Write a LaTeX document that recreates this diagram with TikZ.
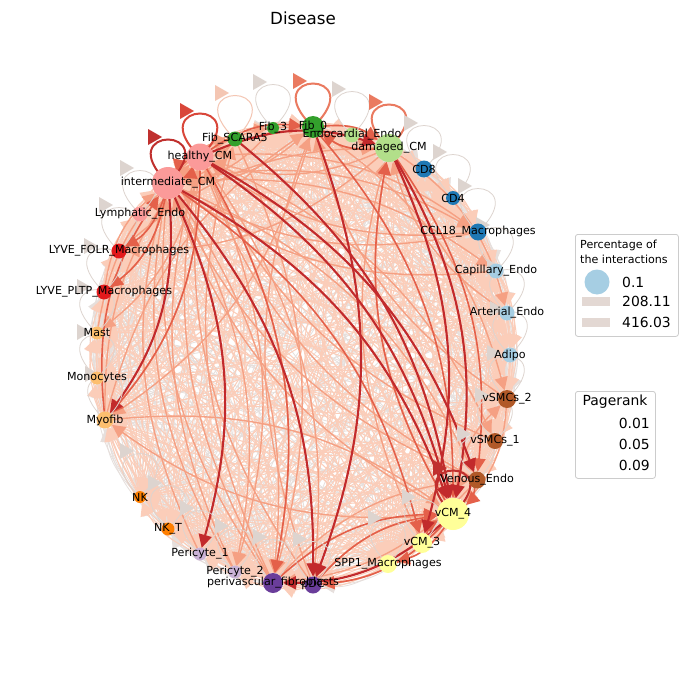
\documentclass[tikz,border=0pt]{standalone}
\usepackage{fontspec}
\setmainfont{DejaVu Sans}
\usetikzlibrary{arrows.meta,calc}
\definecolor{lv0}{HTML}{E6DFDC}
\definecolor{lv1}{HTML}{FBCDB9}
\definecolor{lv2}{HTML}{F5A083}
\definecolor{lv3}{HTML}{E4604A}
\definecolor{lv4}{HTML}{C22A2C}
\definecolor{cgreen}{HTML}{33A02C}
\definecolor{clgreen}{HTML}{B2DF8A}
\definecolor{cblue}{HTML}{1F78B4}
\definecolor{clblue}{HTML}{A6CEE3}
\definecolor{cbrown}{HTML}{B15928}
\definecolor{cyellow}{HTML}{FFFF99}
\definecolor{cpurple}{HTML}{6A3D9A}
\definecolor{clpurple}{HTML}{CAB2D6}
\definecolor{corange}{HTML}{FF7F00}
\definecolor{clorange}{HTML}{FDBF6F}
\definecolor{cred}{HTML}{E31A1C}
\definecolor{cpink}{HTML}{FB9A99}
\definecolor{legframe}{HTML}{CCCCCC}
\definecolor{legbar}{HTML}{E3D8D3}
\definecolor{loopgray}{HTML}{DDD4CF}
\definecolor{loopsalmon}{HTML}{F4C6B3}
\definecolor{loopmid}{HTML}{EA7A60}
\definecolor{loopred}{HTML}{D9473A}
\definecolor{loopdark}{HTML}{C0302E}
\tikzset{
  anchornode/.style={circle,inner sep=0pt,outer sep=0pt},
  lbl/.style={font=\fontsize{11.1}{13}\selectfont,inner sep=0pt,text=black},
  legtxt/.style={font=\fontsize{13.9}{16}\selectfont,inner sep=0pt,anchor=west},
  legtitle/.style={font=\fontsize{11.1}{13}\selectfont,inner sep=0pt,anchor=west},
  legbox/.style={draw=legframe,rounded corners=2.5pt,fill=white,line width=0.8pt,inner sep=0pt,anchor=north west},
  tip/.style={-{Triangle[length=13pt,width=13pt]}}
}
\begin{document}
\begin{tikzpicture}[x=1pt,y=-1pt]
\useasboundingbox[fill=white] (0,0) rectangle (687,690);
\node[font=\fontsize{16.7}{20}\selectfont,inner sep=0pt] (title) at (303,18) {Disease};
% node anchors
\foreach \i/\x/\y/\r in {1/313/127/11, 2/352/135/7.5, 3/389/148/14, 4/424/169/8.5, 5/453/198/7,
  6/478/232/8.5, 7/496/271/7.5, 8/507/313/7.5, 9/510/355/7.5, 10/507/399/9, 11/495/441/8,
  12/477/480/8.5, 13/453/514/16, 14/422/543/10, 15/388/564/9, 16/313/585/8.5, 17/273/583/10,
  18/235/572/6.5, 19/200/554/6.5, 20/168/529/6.5, 21/140/497/6, 22/105/420/8.5, 23/97/378/6.5,
  24/97/333/6.5, 25/104/292/7.5, 26/119/251/7.5, 27/140/214/7.5, 28/168/183/16, 29/200/157/13.5,
  30/235/139/7.5, 31/273/128/6}
  {\node[anchornode,minimum size=2*\r pt] (n\i) at (\x,\y) {};}
\def\act{{3,1,3,0,0,1,1,1,1,1,1,2,3,2,1,2,2,1,1,0,0,2,0,0,1,1,1,4,4,2,1}}
% mesh of all interactions, light to dark
\foreach \L/\w in {0/0.8,1/1.0,2/1.4,3/1.7}{
  \foreach \i in {1,...,31}{
    \foreach \j in {1,...,31}{
      \ifnum\i=\j\relax\else
        \pgfmathtruncatemacro\lv{min(3,(\act[\i-1]+\act[\j-1]+mod(\i*7+\j*13,6))/4.2)}
        \ifnum\lv=\L\relax
          \draw[draw=lv\L,line width=\w pt,tip] (n\i) to[bend left=20] (n\j);
        \fi
      \fi
    }
  }
}
% stronger interactions
\foreach \a/\b in {29/28,28/29,13/3,1/3,3/1,29/1,13/16,13/15,14/13,12/13,28/25,28/26,29/22,3/12,1/13,17/13,16/13,22/28,28/14,29/17}
  {\draw[draw=lv3,line width=1.6pt,tip] (n\a) to[bend left=20] (n\b);}
\foreach \a/\b in {28/13,29/13,3/13,29/3,1/16,13/17,28/19,28/22,30/13,29/12,3/14,28/16}
  {\draw[draw=lv4,line width=2.1pt,tip] (n\a) to[bend left=20] (n\b);}
% self loops
\foreach \i/\lc/\lw in {1/loopmid/2, 2/loopgray/0.8, 3/loopmid/2, 4/loopgray/0.8, 5/loopgray/0.8,
  6/loopgray/0.8, 7/loopgray/0.8, 8/loopgray/0.8, 9/loopgray/0.8, 10/loopgray/0.8, 11/loopgray/0.8,
  12/loopgray/0.8, 13/loopdark/2, 14/loopgray/0.8, 15/loopgray/0.8, 16/loopgray/0.8, 17/loopgray/0.8,
  18/loopgray/0.8, 19/loopgray/0.8, 20/loopgray/0.8, 21/loopgray/0.8, 22/loopgray/0.8, 23/loopgray/0.8,
  24/loopgray/0.8, 25/loopgray/0.8, 26/loopgray/0.8, 27/loopgray/0.8, 28/loopdark/2, 29/loopred/2,
  30/loopsalmon/1, 31/loopgray/0.8}
{
  \draw[draw=\lc,line width=\lw pt] (n\i.center) .. controls +(-60,-58) and +(60,-58) .. (n\i.center);
  \fill[\lc] ($(n\i.center)+(-6,-46)$) -- ++(-14,-8) -- ++(0,16) -- cycle;
}
% node discs
\foreach \i/\r/\c in {1/11/cgreen, 2/7.5/clgreen, 3/14/clgreen, 4/8.5/cblue, 5/7/cblue, 6/8.5/cblue,
  7/7.5/clblue, 8/7.5/clblue, 9/7.5/clblue, 10/9/cbrown, 11/8/cbrown, 12/8.5/cbrown, 13/16/cyellow,
  14/10/cyellow, 15/9/cyellow, 16/8.5/cpurple, 17/10/cpurple, 18/6.5/clpurple, 19/6.5/clpurple,
  20/6.5/corange, 21/6/corange, 22/8.5/clorange, 23/6.5/clorange, 24/6.5/clorange, 25/7.5/cred,
  26/7.5/cred, 27/7.5/cpink, 28/16/cpink, 29/13.5/cpink, 30/7.5/cgreen, 31/6/cgreen}
{
  \fill[\c] (n\i.center) circle[radius=\r pt];
}
% labels
\foreach \i/\t in {1/Fib\_0, 2/Endocardial\_Endo, 3/damaged\_CM, 4/CD8, 5/CD4, 6/CCL18\_Macrophages,
  7/Capillary\_Endo, 8/Arterial\_Endo, 9/Adipo, 10/vSMCs\_2, 11/vSMCs\_1, 12/Venous\_Endo, 13/vCM\_4,
  14/vCM\_3, 15/SPP1\_Macrophages, 16/pDC, 17/perivascular\_fibroblasts, 18/Pericyte\_2, 19/Pericyte\_1,
  20/NK\_T, 21/NK, 22/Myofib, 23/Monocytes, 24/Mast, 25/LYVE\_PLTP\_Macrophages,
  26/LYVE\_FOLR\_Macrophages, 27/Lymphatic\_Endo, 28/intermediate\_CM, 29/healthy\_CM, 30/Fib\_SCARA5, 31/Fib\_3}
{
  \node[lbl] (t\i) at (n\i.center) {\t};
}
% legend 1
\node[legbox,minimum width=103pt,minimum height=102pt] (leg1) at (575,234) {};
\node[legtitle] (leg1a) at (580,245) {Percentage of};
\node[legtitle] (leg1b) at (580,259) {the interactions};
\node[circle,fill=clblue,minimum size=25pt,inner sep=0pt] (legc) at (597,282) {};
\node[fill=legbar,minimum width=28pt,minimum height=9pt,inner sep=0pt] (legr1) at (596,301) {};
\node[fill=legbar,minimum width=28pt,minimum height=9pt,inner sep=0pt] (legr2) at (596,322) {};
\node[legtxt] (legv1) at (622,282) {0.1};
\node[legtxt] (legv2) at (622,301) {208.11};
\node[legtxt] (legv3) at (622,322) {416.03};
% legend 2
\node[legbox,minimum width=80pt,minimum height=87pt] (leg2) at (575,391) {};
\node[font=\fontsize{13.9}{16}\selectfont,inner sep=0pt] (leg2a) at (615,402) {Pagerank};
\node[legtxt,anchor=east] (leg2b) at (650,423) {0.01};
\node[legtxt,anchor=east] (leg2c) at (650,444) {0.05};
\node[legtxt,anchor=east] (leg2d) at (650,465) {0.09};
\end{tikzpicture}
\end{document}
